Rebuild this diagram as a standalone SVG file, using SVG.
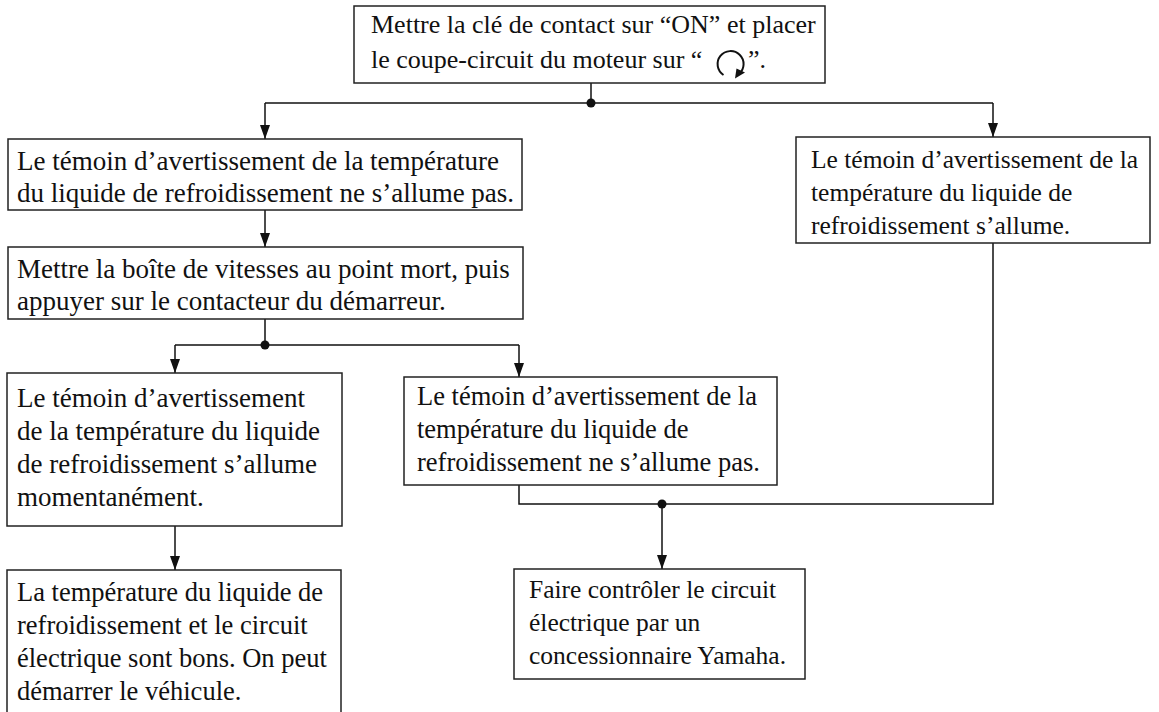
<svg xmlns="http://www.w3.org/2000/svg" width="1159" height="712" viewBox="0 0 1159 712">
<style>
.box{fill:#fff;stroke:#222;stroke-width:1.5}
.t{font-family:"Liberation Serif","Times New Roman",serif;font-size:26px;fill:#111}
.l{font-size:27px}
.s{font-size:25.5px}
.m{font-size:26.5px}
.c{fill:none;stroke:#111;stroke-width:1.5}
.dot{fill:#111}
</style>
<defs>
<marker id="arr" viewBox="0 0 14 10" refX="14" refY="5" markerWidth="14" markerHeight="10" markerUnits="userSpaceOnUse" orient="auto">
<path d="M0,0 L14,5 L0,10 Z" fill="#111"/>
</marker>
</defs>
<g id="connectors">
<path class="c" d="M591,83 V103"/>
<path class="c" d="M265,103 H993"/>
<path class="c" d="M265,103 V139" marker-end="url(#arr)"/>
<path class="c" d="M993,103 V137" marker-end="url(#arr)"/>
<circle class="dot" cx="591" cy="103" r="4.5"/>
<path class="c" d="M265,210 V247" marker-end="url(#arr)"/>
<path class="c" d="M265,319 V345 M175,345 H519"/>
<circle class="dot" cx="265" cy="345" r="4.5"/>
<path class="c" d="M175,345 V373" marker-end="url(#arr)"/>
<path class="c" d="M519,345 V377" marker-end="url(#arr)"/>
<path class="c" d="M175,526 V570" marker-end="url(#arr)"/>
<path class="c" d="M519,485 V504 H993 V243"/>
<circle class="dot" cx="662" cy="504" r="4.5"/>
<path class="c" d="M662,504 V569" marker-end="url(#arr)"/>
</g>
<g id="n-start">
<rect class="box" x="354" y="6" width="471" height="77"/>
<text class="t" x="371" y="33">Mettre la clé de contact sur “ON” et placer</text>
<text class="t" x="371" y="68">le coupe-circuit du moteur sur “</text>
<path d="M723.5,75 A13,13 0 1 1 739,74" fill="none" stroke="#111" stroke-width="2"/>
<path d="M735,78.5 L745,72.5 L736.5,68.5 Z" fill="#111"/>
<text class="t" x="748" y="68">”.</text>
</g>
<g id="n-off1">
<rect class="box" x="8" y="139" width="514" height="71"/>
<text class="t l" x="17" y="170">Le témoin d’avertissement de la température</text>
<text class="t l" x="17" y="202">du liquide de refroidissement ne s’allume pas.</text>
</g>
<g id="n-on1">
<rect class="box" x="796" y="137" width="354" height="106"/>
<text class="t s" x="811" y="168">Le témoin d’avertissement de la</text>
<text class="t s" x="811" y="201">température du liquide de</text>
<text class="t s" x="811" y="234">refroidissement s’allume.</text>
</g>
<g id="n-neutral">
<rect class="box" x="8" y="247" width="515" height="72"/>
<text class="t l" x="17" y="278">Mettre la boîte de vitesses au point mort, puis</text>
<text class="t l" x="17" y="310">appuyer sur le contacteur du démarreur.</text>
</g>
<g id="n-momentary">
<rect class="box" x="7" y="373" width="335" height="153"/>
<text class="t l" x="17" y="407">Le témoin d’avertissement</text>
<text class="t l" x="17" y="440">de la température du liquide</text>
<text class="t l" x="17" y="473">de refroidissement s’allume</text>
<text class="t l" x="17" y="506">momentanément.</text>
</g>
<g id="n-off2">
<rect class="box" x="404" y="377" width="373" height="108"/>
<text class="t m" x="417" y="405">Le témoin d’avertissement de la</text>
<text class="t m" x="417" y="438">température du liquide de</text>
<text class="t m" x="417" y="471">refroidissement ne s’allume pas.</text>
</g>
<g id="n-ok">
<rect class="box" x="7" y="570" width="334" height="160"/>
<text class="t m" x="17" y="601">La température du liquide de</text>
<text class="t m" x="17" y="634">refroidissement et le circuit</text>
<text class="t m" x="17" y="667">électrique sont bons. On peut</text>
<text class="t m" x="17" y="700">démarrer le véhicule.</text>
</g>
<g id="n-dealer">
<rect class="box" x="514" y="569" width="291" height="110"/>
<text class="t s" x="529" y="598">Faire contrôler le circuit</text>
<text class="t s" x="529" y="631">électrique par un</text>
<text class="t s" x="529" y="664">concessionnaire Yamaha.</text>
</g>
</svg>
